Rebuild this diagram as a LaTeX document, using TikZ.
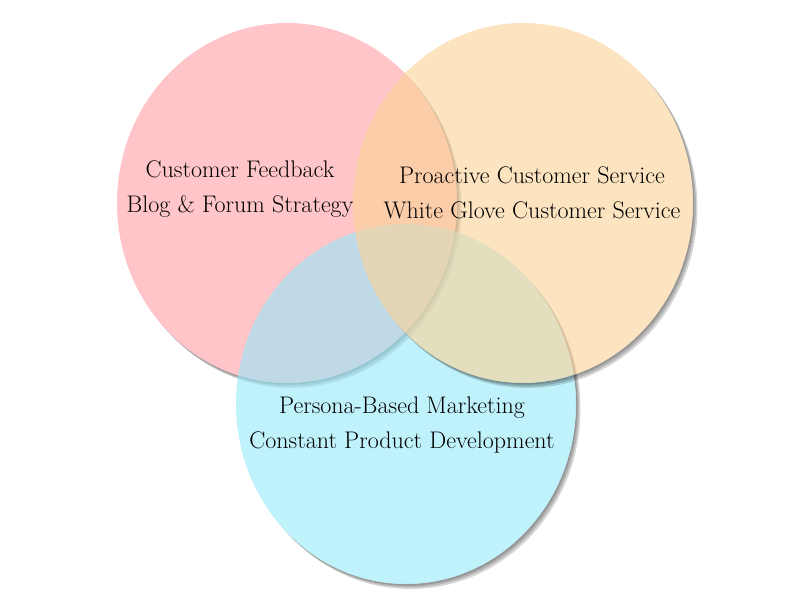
\documentclass[tikz,border=0pt]{standalone}
\usetikzlibrary{shapes.geometric}

\definecolor{feedbackpink}{RGB}{255,158,163}
\definecolor{servicepeach}{RGB}{251,210,150}
\definecolor{marketingcyan}{RGB}{150,233,250}

\begin{document}
\begin{tikzpicture}[x=1pt, y=-1pt,
        venn/.style={ellipse, minimum width=340pt, minimum height=360pt, inner sep=0pt, fill opacity=0.6},
        vennshadow/.style={black, fill opacity=0.16},
        venntext/.style={align=center, text=black, font=\fontsize{24}{35}\selectfont}]
        \useasboundingbox (0,0) rectangle (800,600);
        \coordinate (fb) at (287,203);
        \coordinate (mk) at (406,404);
        \coordinate (sv) at (523,203);
        % feedback circle
        \begin{scope}[even odd rule]
            \clip (0,0) rectangle (800,600) (fb) ellipse [x radius=170, y radius=180];
            \foreach \s in {1.5,3,4.5}
                \fill[vennshadow] ([shift={(\s,1.1*\s)}]fb) ellipse [x radius=170, y radius=180];
        \end{scope}
        \node[venn, fill=feedbackpink] (feedback) at (fb) {};
        % marketing circle
        \begin{scope}[even odd rule]
            \clip (0,0) rectangle (800,600) (mk) ellipse [x radius=170, y radius=180];
            \foreach \s in {1.5,3,4.5}
                \fill[vennshadow] ([shift={(\s,1.1*\s)}]mk) ellipse [x radius=170, y radius=180];
        \end{scope}
        \node[venn, fill=marketingcyan] (marketing) at (mk) {};
        % service circle
        \begin{scope}[even odd rule]
            \clip (0,0) rectangle (800,600) (sv) ellipse [x radius=170, y radius=180];
            \foreach \s in {1.5,3,4.5}
                \fill[vennshadow] ([shift={(\s,1.1*\s)}]sv) ellipse [x radius=170, y radius=180];
        \end{scope}
        \node[venn, fill=servicepeach] (service) at (sv) {};
        % texts
        \node[venntext] (feedbacktext) at (240,189) {Customer Feedback\\Blog \& Forum Strategy};
        \node[venntext] (servicetext) at (532,193) {Proactive Customer Service\\White Glove Customer Service};
        \node[venntext] (marketingtext) at (402,425) {Persona-Based Marketing\\Constant Product Development};
\end{tikzpicture}
\end{document}
